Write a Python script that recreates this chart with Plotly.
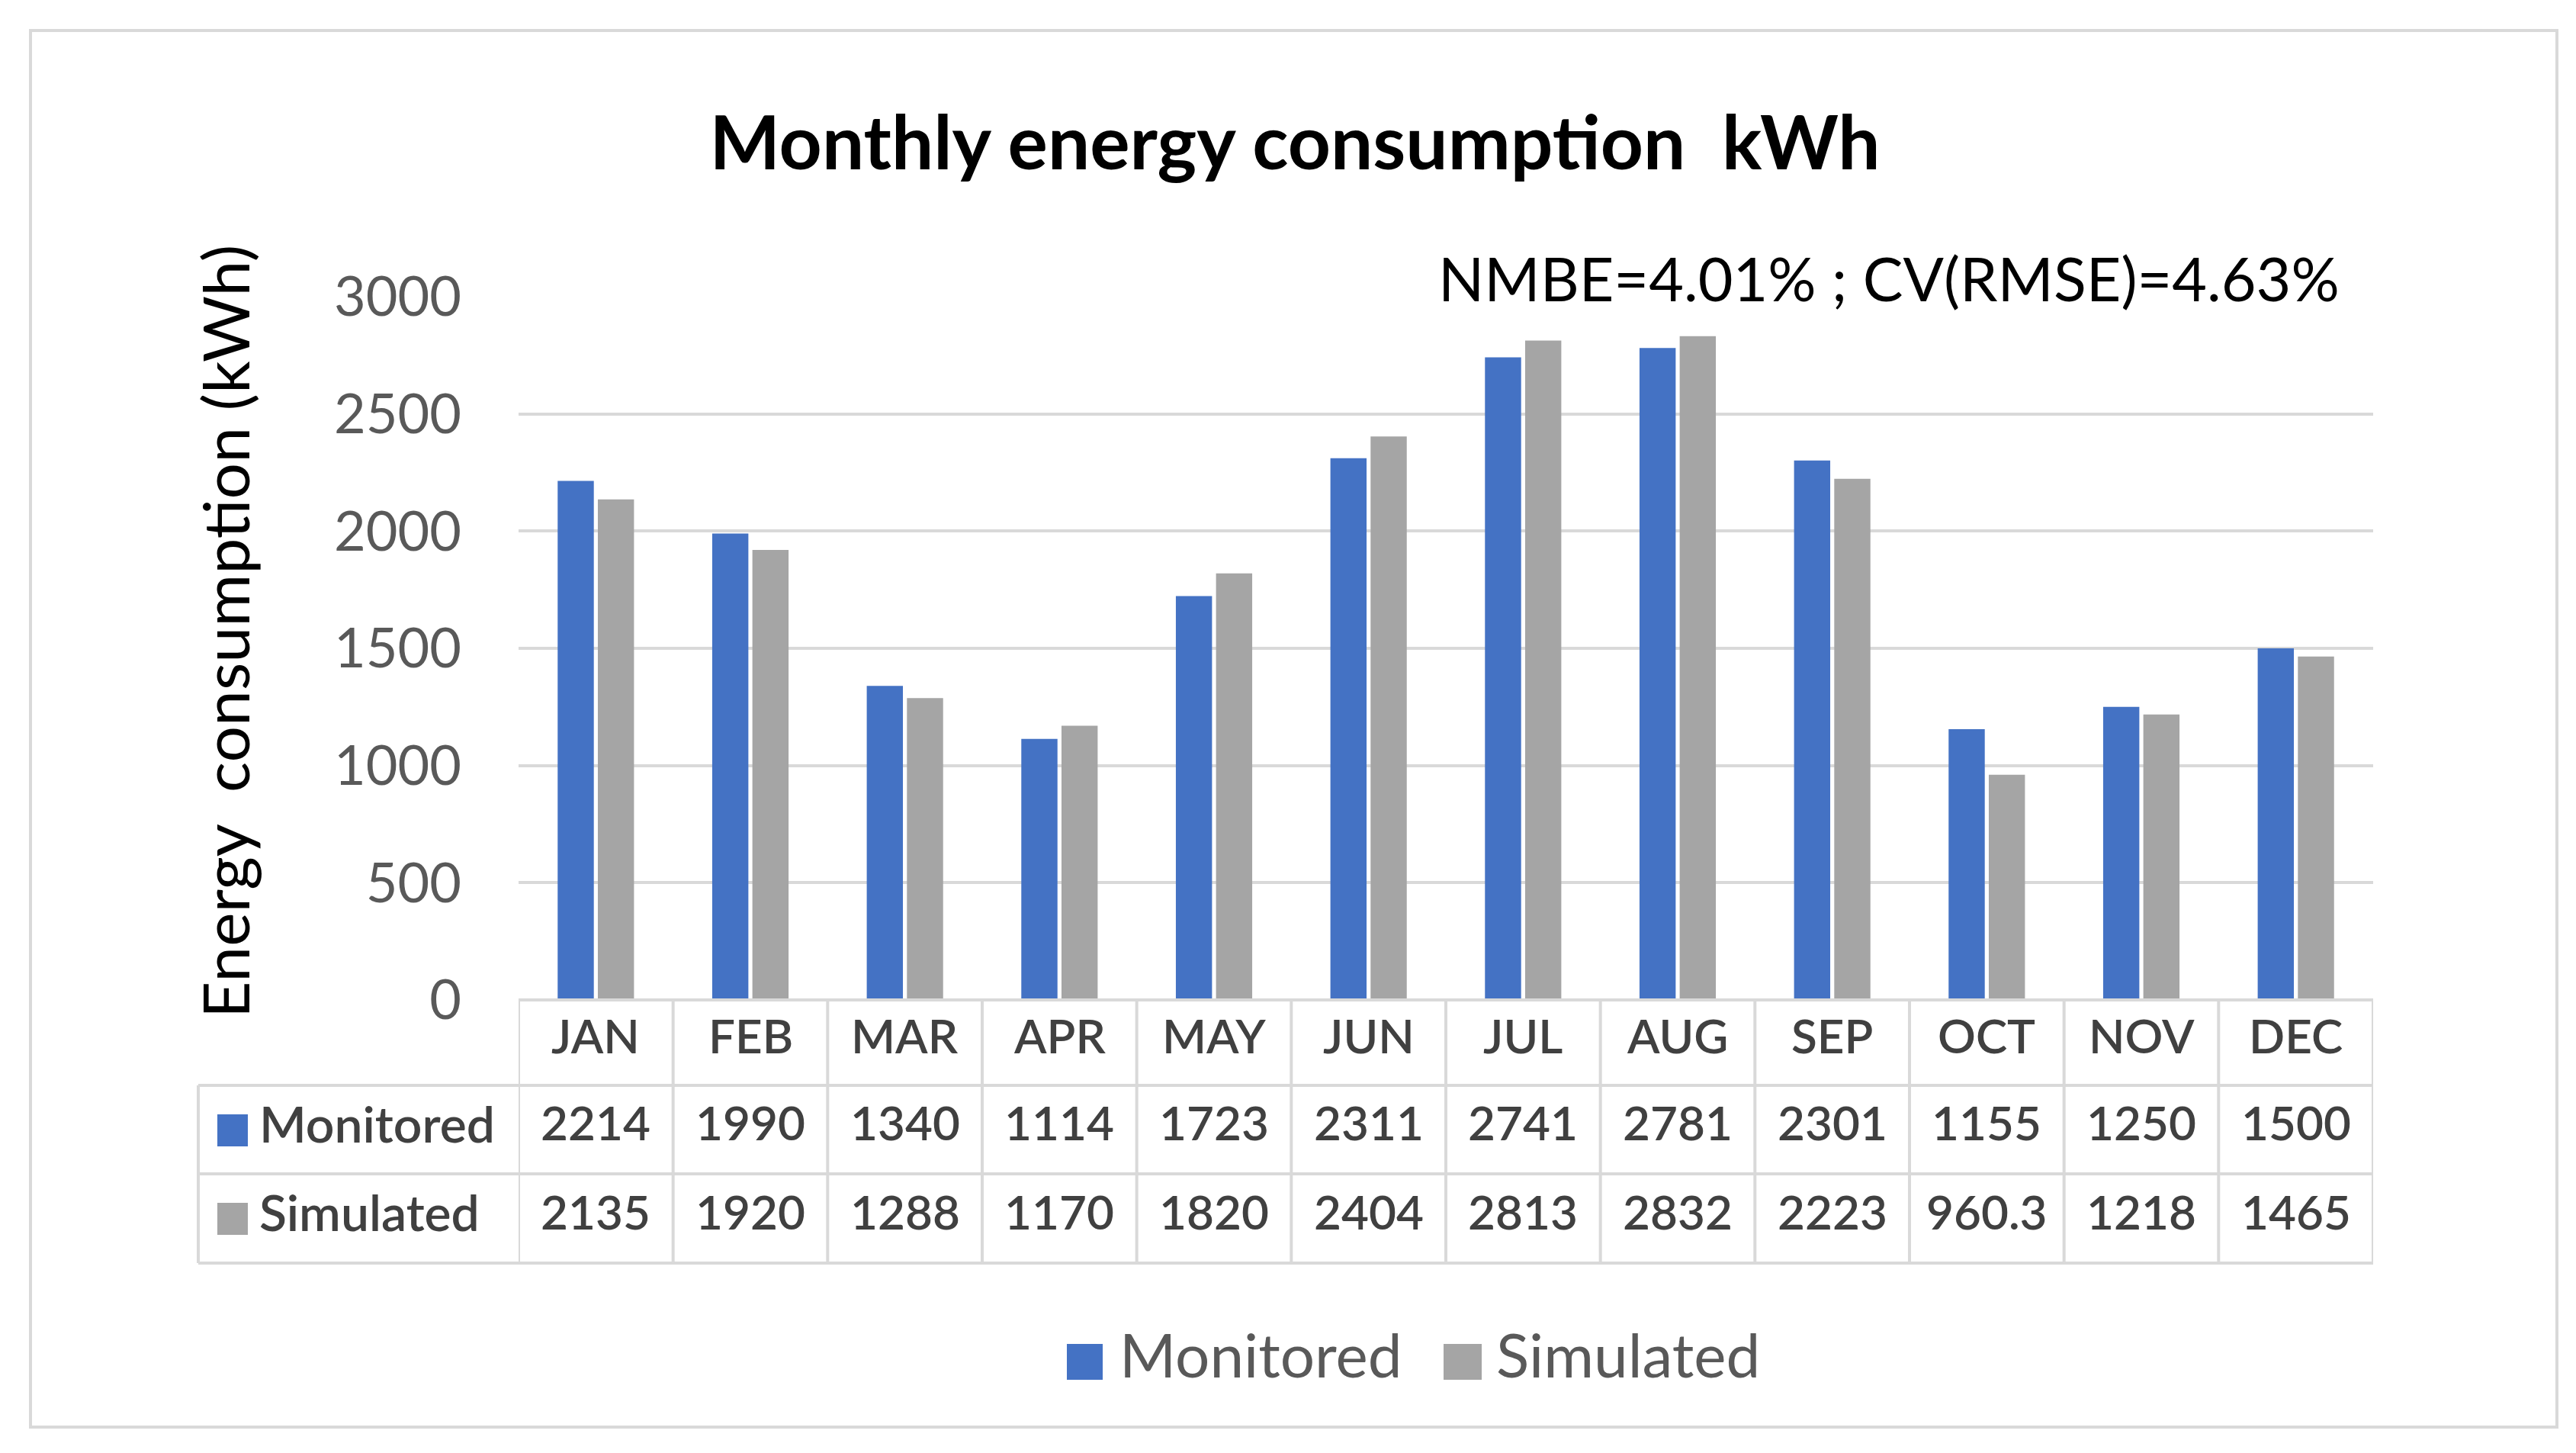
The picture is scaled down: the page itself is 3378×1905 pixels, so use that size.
import plotly.graph_objects as go

# ---- data ----
months = ["JAN", "FEB", "MAR", "APR", "MAY", "JUN", "JUL", "AUG", "SEP", "OCT", "NOV", "DEC"]
monitored = [2214, 1990, 1340, 1114, 1723, 2311, 2741, 2781, 2301, 1155, 1250, 1500]
simulated = [2135, 1920, 1288, 1170, 1820, 2404, 2813, 2832, 2223, 960.3, 1218, 1465]
y_ticks = [0, 500, 1000, 1500, 2000, 2500, 3000]
series_names = ["Monitored", "Simulated"]
title_text = "Monthly energy consumption  kWh"
y_title = "Energy  consumption (kWh)"
stats_text = "NMBE=4.01% ; CV(RMSE)=4.63%"

# ---- layout geometry (pixels) ----
W, H = 3378, 1905
L, R, T, B = 672, 3104, 381, 1303
PW, PH = R - L, B - T
BLUE = "#4472C4"
GREY = "#A5A5A5"
LINE = "#D9D9D9"
FONT = "Lato"
TXT_DY = -10  # compensate for descender space in middle-anchored text


def px(x):
    return (x - L) / PW


def py(y):
    return (B - y) / PH


fig = go.Figure()
fig.add_trace(go.Bar(x=months, y=monitored, name=series_names[0],
                     marker=dict(color=BLUE, line=dict(width=0)), showlegend=False))
fig.add_trace(go.Bar(x=months, y=simulated, name=series_names[1],
                     marker=dict(color=GREY, line=dict(width=0)), showlegend=False))

shapes = []
annotations = []

# outer chart border
shapes.append(dict(type="rect", xref="paper", yref="paper",
                   x0=px(32), x1=px(3345), y0=py(1863), y1=py(32),
                   line=dict(color=LINE, width=4), fillcolor="rgba(0,0,0,0)", layer="below"))

# data table lines
row_header_top, row1_top, row2_top, table_bottom = 1303, 1415, 1531, 1648
left_col = 252
for yy, x0 in [(row_header_top, L), (row1_top, left_col), (row2_top, left_col), (table_bottom, left_col)]:
    shapes.append(dict(type="line", xref="paper", yref="paper", x0=px(x0), x1=1,
                       y0=py(yy), y1=py(yy), line=dict(color=LINE, width=4)))
# vertical lines at category boundaries
for i in range(len(months) + 1):
    shapes.append(dict(type="line", xref="x", yref="paper", x0=i - 0.5, x1=i - 0.5,
                       y0=py(row_header_top), y1=py(table_bottom), line=dict(color=LINE, width=4)))
shapes.append(dict(type="line", xref="paper", yref="paper", x0=px(left_col), x1=px(left_col),
                   y0=py(row1_top), y1=py(table_bottom), line=dict(color=LINE, width=4)))

TABLE_FONT = dict(family=FONT, size=62, color="#404040", weight=600)
for m, mv, sv in zip(months, monitored, simulated):
    for yc, txt in [(1359, m), (1473, f"{mv:g}"), (1590, f"{sv:g}")]:
        annotations.append(dict(x=m, xref="x", y=py(yc + TXT_DY), yref="paper", text=txt,
                                xanchor="center", yanchor="middle",
                                showarrow=False, font=TABLE_FONT))

# table row legend keys
for name, col, yc in [(series_names[0], BLUE, 1474), (series_names[1], GREY, 1590)]:
    shapes.append(dict(type="rect", xref="paper", yref="paper",
                       x0=px(277), x1=px(317), y0=py(yc + 21), y1=py(yc - 21),
                       fillcolor=col, line=dict(width=0)))
    annotations.append(dict(x=px(330), xref="paper", y=py(yc + TXT_DY), yref="paper", text=name,
                            xanchor="left", yanchor="middle", showarrow=False,
                            font=dict(family=FONT, size=66, color="#404040", weight=600)))

# bottom legend
LEG_FONT = dict(family=FONT, size=80, color="#595959")
for name, col, x0, x1, xt in [(series_names[0], BLUE, 1391, 1438, 1458),
                              (series_names[1], GREY, 1885, 1935, 1952)]:
    shapes.append(dict(type="rect", xref="paper", yref="paper",
                       x0=px(x0), x1=px(x1), y0=py(1801), y1=py(1754),
                       fillcolor=col, line=dict(width=0)))
    annotations.append(dict(x=px(xt), xref="paper", y=py(1777 + TXT_DY), yref="paper", text=name,
                            xanchor="left", yanchor="middle", showarrow=False, font=LEG_FONT))

# y-axis title
annotations.append(dict(x=px(286), xref="paper", y=py(820), yref="paper", text=y_title,
                        textangle=-90, xanchor="center", yanchor="middle", showarrow=False,
                        font=dict(family=FONT, size=84, color="#000000")))

# stats annotation
annotations.append(dict(x=px(2469), xref="paper", y=py(366 + TXT_DY), yref="paper", text=stats_text,
                        xanchor="center", yanchor="middle", showarrow=False,
                        font=dict(family=FONT, size=79, color="#000000")))

fig.update_layout(
    width=W, height=H,
    margin=dict(l=L, r=W - R, t=T, b=H - B, pad=0),
    paper_bgcolor="white", plot_bgcolor="white",
    barmode="group", bargap=0.48, bargroupgap=0.1,
    title=dict(text=f"<b>{title_text}</b>", x=1690 / W, xref="container", xanchor="center",
               y=1 - 180 / H, yref="container", yanchor="middle",
               font=dict(family=FONT, size=98, color="#000000")),
    xaxis=dict(range=[-0.5, len(months) - 0.5], showticklabels=False, showgrid=False,
               zeroline=False, showline=False, ticks=""),
    yaxis=dict(range=[0, 3000], tickvals=y_ticks, gridcolor=LINE, gridwidth=4,
               zeroline=False, showline=False, ticks="", ticklabelstandoff=74,
               tickfont=dict(family=FONT, size=72, color="#595959")),
    shapes=shapes, annotations=annotations,
    showlegend=False,
)

fig.write_html("out.html")
